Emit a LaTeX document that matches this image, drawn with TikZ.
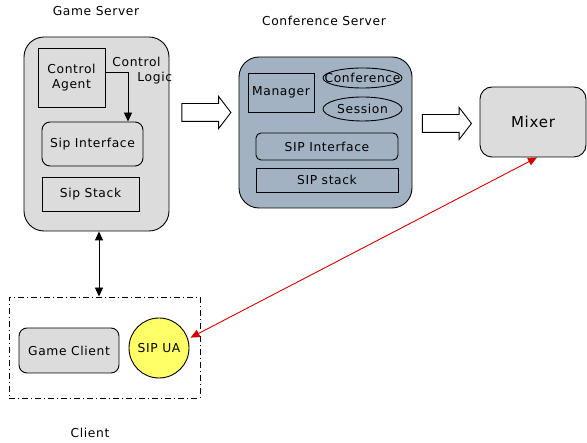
\documentclass[tikz,border=0pt]{standalone}
\usepackage{fontspec}
\setmainfont{DejaVu Sans}[LetterSpace=5]
\usepackage{tikz}
\usetikzlibrary{arrows.meta,shapes.geometric,shapes.arrows}

\definecolor{boxgray}{HTML}{DCDCDC}
\definecolor{slate}{HTML}{A3B2C2}
\definecolor{uayellow}{HTML}{FFFF66}
\definecolor{sipred}{HTML}{D40000}

\begin{document}
\begin{tikzpicture}[x=1pt,y=-1pt,line width=0.9pt,
  font=\fontsize{12.3}{15}\selectfont,
  lbl/.style={inner sep=0pt},
  blk/.style={draw,inner sep=0pt,align=center},
  srv/.style={blk,rounded corners=20pt},
  rblk/.style={blk,rounded corners=8pt},
  oval/.style={draw,ellipse,inner sep=0pt},
  hollow/.style={draw,single arrow,inner sep=0pt,minimum height=49pt,
    single arrow head extend=7pt,single arrow tip angle=105},
  tip/.style={-{Triangle[length=9pt,width=8pt]}},
  tips/.style={{Triangle[length=9pt,width=8pt]}-{Triangle[length=9pt,width=8pt]}}]
  \useasboundingbox (0,0) rectangle (587,443);

  % game server
  \node[lbl] (gs_lbl) at (96,11) {Game Server};
  \node[srv,fill=boxgray,minimum width=145pt,minimum height=194pt] (game_srv) at (96.5,134) {};
  \node[blk,minimum width=67pt,minimum height=59pt] (ctrl_agent) at (71.5,77.5) {Control\\Agent};
  \node[lbl,anchor=west] (ctrl_lbl) at (112,62) {Control};
  \node[lbl,anchor=west] (logic_lbl) at (137,78) {Logic};
  \node[rblk,fill=boxgray,minimum width=101pt,minimum height=44pt] (gs_sipif) at (92.5,144) {Sip Interface};
  \node[blk,fill=boxgray,minimum width=97pt,minimum height=34pt] (gs_stack) at (90.5,194) {Sip Stack};
  \draw[tip] ([yshift=5.5pt]ctrl_agent.east) -| ([xshift=35.5pt]gs_sipif.north);

  % client
  \node[blk,dash pattern=on 6pt off 3pt on 1pt off 3pt,minimum width=191pt,minimum height=101pt] (client) at (104.5,347.5) {};
  \node[rblk,fill=boxgray,minimum width=100pt,minimum height=45pt] (game_client) at (69,350.5) {Game Client};
  \node[draw,circle,fill=uayellow,inner sep=0pt,minimum size=60pt] (sip_ua) at (159,348) {SIP UA};
  \node[lbl] (client_lbl) at (90,433) {Client};
  \draw[tips] ([xshift=2.5pt]game_srv.south) -- ([xshift=-5.5pt]client.north);

  % conference server
  \node[lbl] (cs_lbl) at (324,21) {Conference Server};
  \node[srv,fill=slate,minimum width=173pt,minimum height=151pt] (conf_srv) at (325.5,132.5) {};
  \node[blk,minimum width=66pt,minimum height=39pt] (manager) at (281,92.5) {Manager};
  \node[oval,minimum width=79pt,minimum height=20pt] (conference) at (362.5,78) {\makebox[0pt]{Conference}};
  \node[oval,minimum width=79pt,minimum height=24pt] (session) at (362.5,109) {\makebox[0pt]{Session}};
  \node[blk,rounded corners=5pt,minimum width=142pt,minimum height=27pt] (cs_sipif) at (327,146.5) {SIP Interface};
  \node[blk,minimum width=142pt,minimum height=24pt] (cs_stack) at (327,180) {SIP stack};

  % mixer
  \node[blk,rounded corners=12pt,fill=boxgray,minimum width=106pt,minimum height=70pt,
    font=\fontsize{15}{18}\selectfont] (mixer) at (533,122) {Mixer};

  % block arrows
  \node[hollow] (to_conf) at (203,112.5) {\rule{0pt}{17pt}};
  \node[hollow] (to_mixer) at (443.5,123.5) {\rule{0pt}{17pt}};

  % media path
  \draw[tips,sipred] ([xshift=3pt]sip_ua.20) -- ([xshift=4pt]mixer.south);
\end{tikzpicture}
\end{document}
